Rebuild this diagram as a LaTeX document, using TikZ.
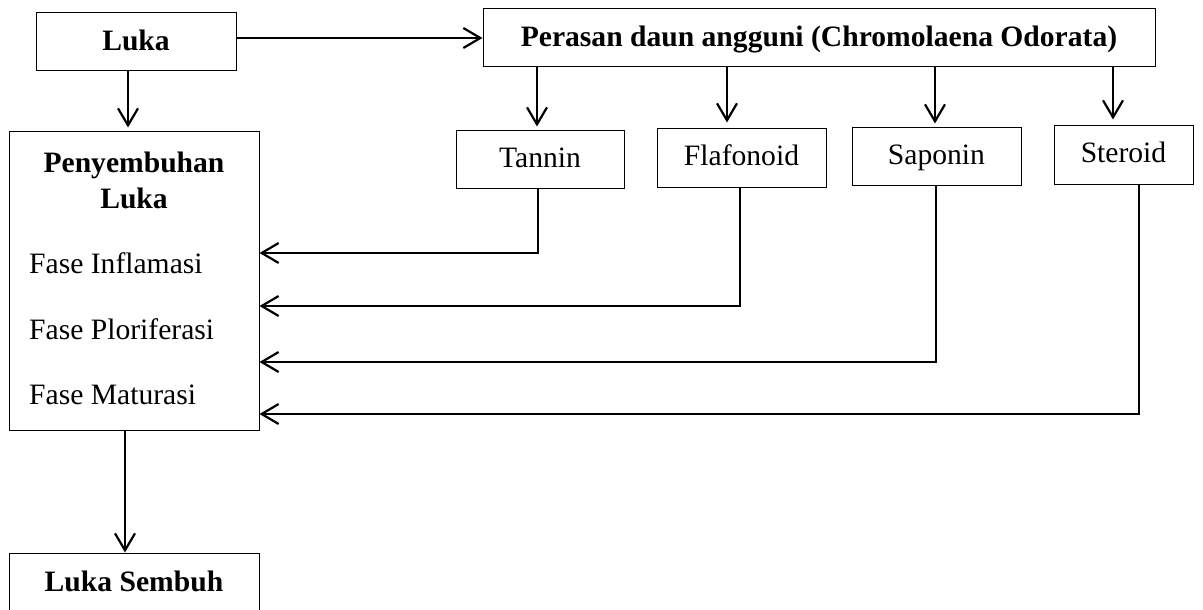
\documentclass[tikz,border=0pt]{standalone}
\usepackage{fontspec}
\setmainfont{Liberation Serif}
\usetikzlibrary{arrows.meta}
\begin{document}
\begin{tikzpicture}[x=1pt,y=-1pt,
  txt/.style={inner sep=0pt, font=\fontsize{29.6}{35}\selectfont},
  txtb/.style={inner sep=0pt, font=\fontsize{29.6}{35}\selectfont\bfseries},
  box/.style={draw, line width=1pt, inner sep=0pt, font=\fontsize{29.6}{35}\selectfont, text height=19.5pt, text depth=3pt},
  bbox/.style={box, font=\fontsize{29.6}{35}\selectfont\bfseries},
  arr/.style={line width=2.2pt, -{Straight Barb[length=17pt,width=20pt]}}]
\useasboundingbox (0,0) rectangle (1203,610);
% boxes
\node[bbox, minimum width=200pt, minimum height=58pt] (luka) at (136,42) {Luka};
\node[bbox, minimum width=672pt, minimum height=58pt] (per) at (819,38) {Perasan daun angguni (Chromolaena Odorata)};
\node[box, minimum width=250pt, minimum height=299pt] (pen) at (134,280.5) {};
\node[txtb, anchor=base] (pt1) at (134,172) {Penyembuhan};
\node[txtb, anchor=base] (pt2) at (134,208) {Luka};
\node[txt, anchor=base west] (f1) at (29,273) {Fase Inflamasi};
\node[txt, anchor=base west] (f2) at (29,339) {Fase Ploriferasi};
\node[txt, anchor=base west] (f3) at (29,404) {Fase Maturasi};
\node[box, minimum width=168pt, minimum height=58pt] (tan) at (540,159) {Tannin};
\node[box, minimum width=169pt, minimum height=59pt] (fla) at (741.5,157.5) {Flafonoid};
\node[box, minimum width=169pt, minimum height=58pt] (sap) at (936.5,156) {Saponin};
\node[box, minimum width=139pt, minimum height=59pt] (ste) at (1123.5,154.5) {Steroid};
\node[bbox, minimum width=250pt, minimum height=60pt] (sem) at (134,583) {Luka Sembuh};
% helper coordinates
\coordinate (c1) at (128,0);
\coordinate (c2) at (125,0);
\coordinate (xa) at (537,0);
\coordinate (xb) at (727,0);
\coordinate (xc) at (935,0);
\coordinate (xd) at (1113,0);
\coordinate (ya) at (538,253);
\coordinate (yb) at (740,306);
\coordinate (yc) at (936,362);
\coordinate (yd) at (1139,414);
% connectors
\draw[arr] (luka.east |- per.west) -- (per.west);
\draw[arr, shorten >=3pt] (luka.south -| c1) -- (pen.north -| c1);
\draw[arr, shorten >=3pt] (per.south -| xa) -- (tan.north -| xa);
\draw[arr, shorten >=5pt] (per.south -| xb) -- (fla.north -| xb);
\draw[arr, shorten >=3pt] (per.south -| xc) -- (sap.north -| xc);
\draw[arr, shorten >=5pt] (per.south -| xd) -- (ste.north -| xd);
\draw[arr] (tan.south -| ya) |- (pen.east |- ya);
\draw[arr] (fla.south -| yb) |- (pen.east |- yb);
\draw[arr] (sap.south -| yc) |- (pen.east |- yc);
\draw[arr] (ste.south -| yd) |- (pen.east |- yd);
\draw[arr] (pen.south -| c2) -- (sem.north -| c2);
\end{tikzpicture}
\end{document}
